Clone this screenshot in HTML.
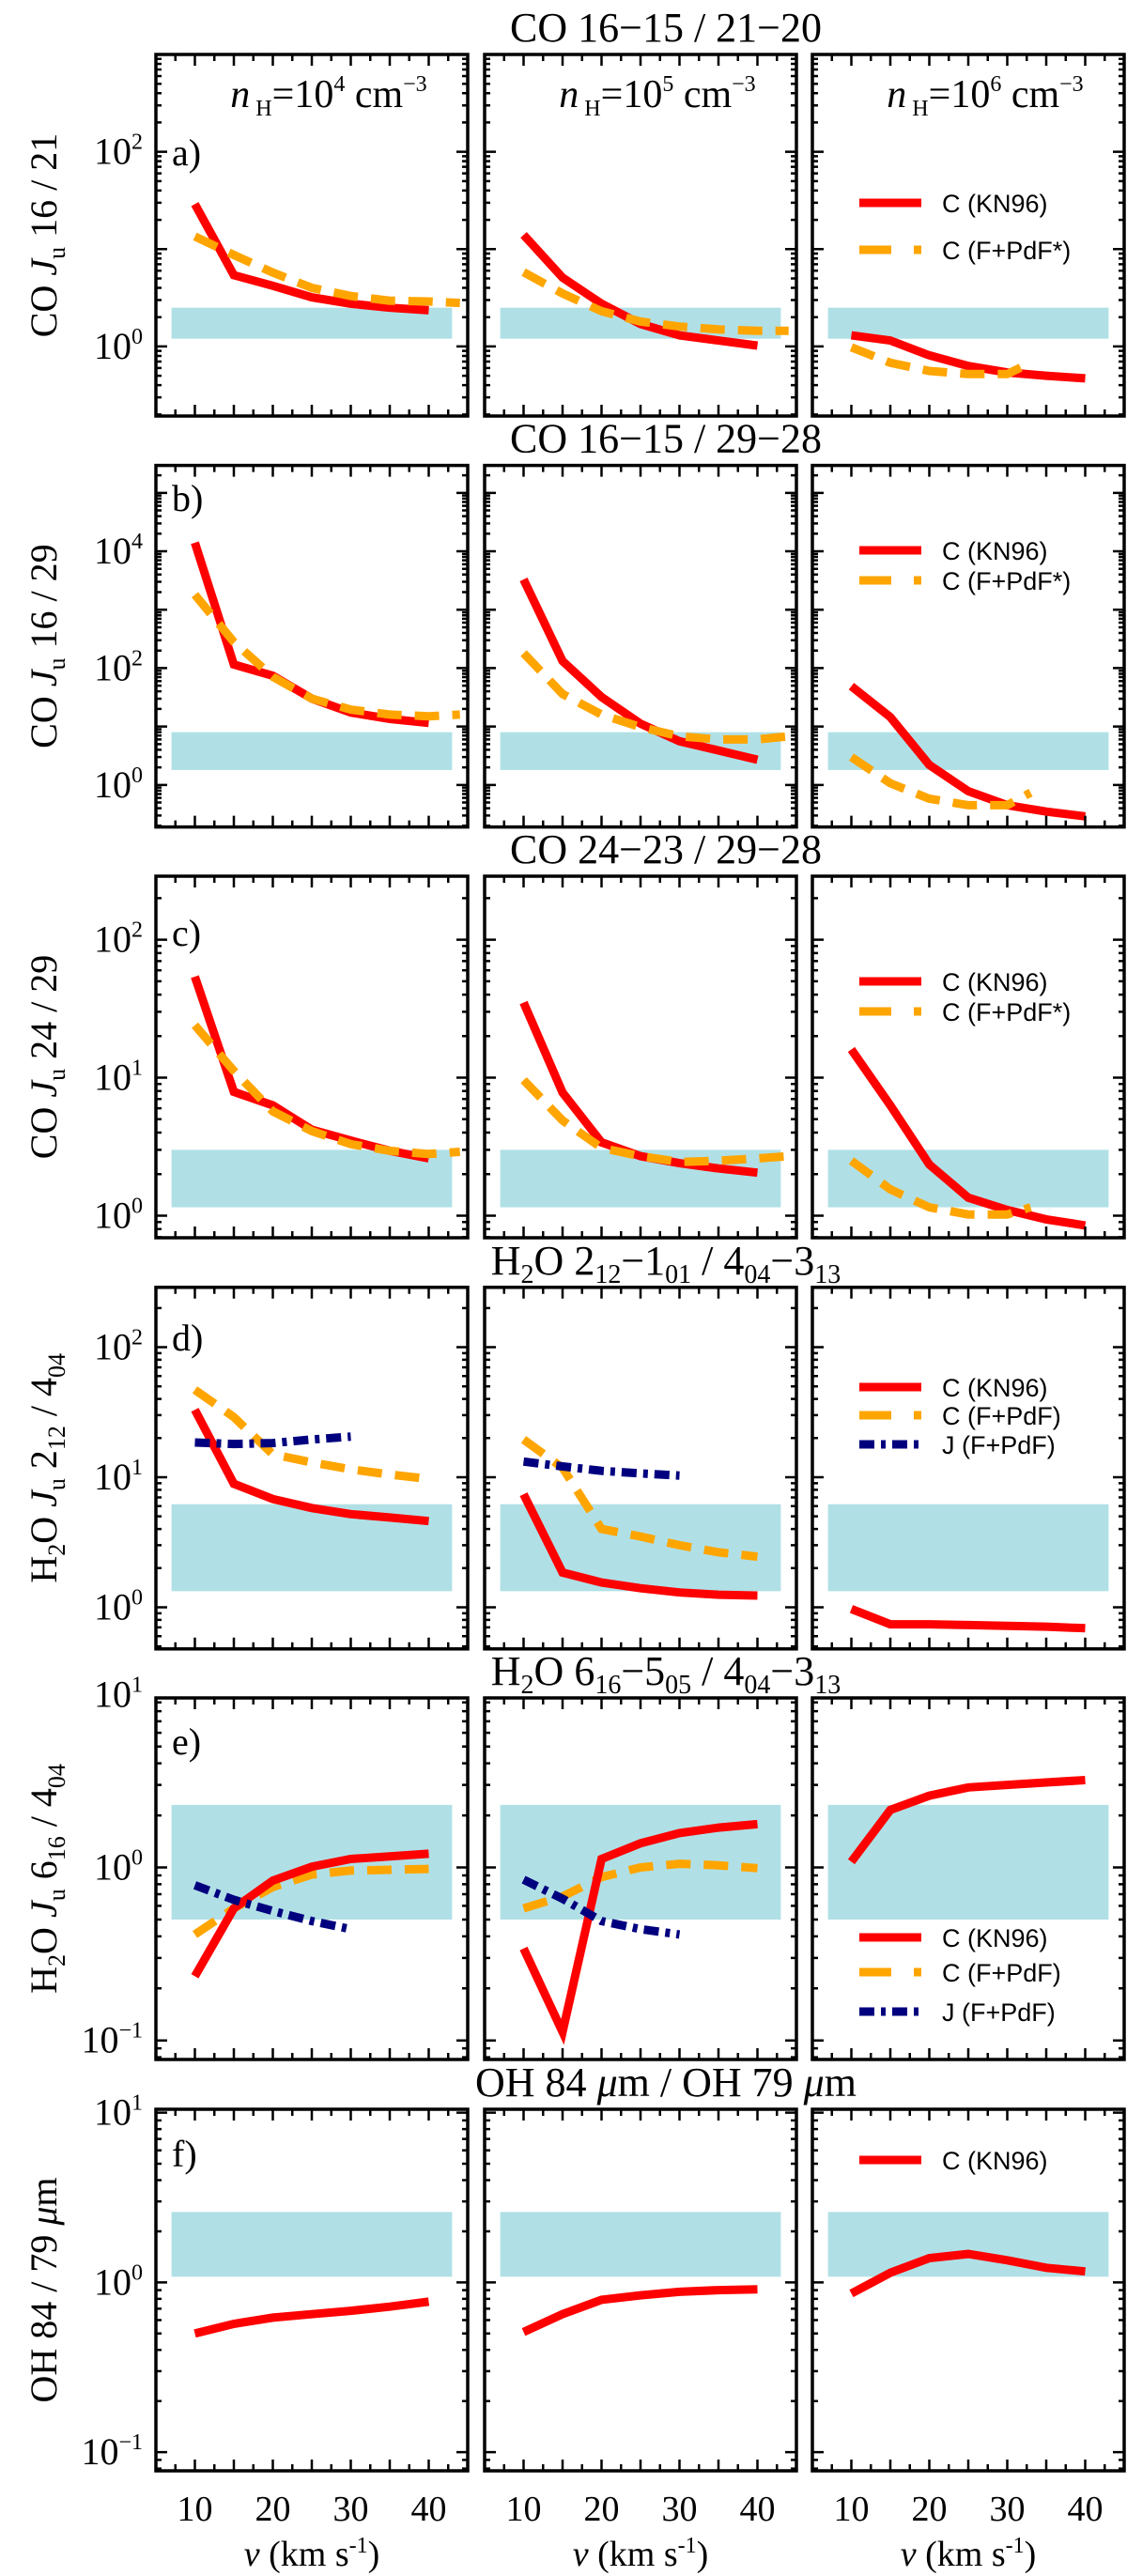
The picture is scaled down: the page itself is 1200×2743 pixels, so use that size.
<!DOCTYPE html>
<html><head><meta charset="utf-8"><title>Line ratio model grid</title>
<style>
html,body{margin:0;padding:0;background:#fff;}
svg{display:block;}
text{font-family:"Liberation Serif","DejaVu Serif",serif;fill:#000;}
.leg{font-family:"Liberation Sans Narrow","Liberation Sans",sans-serif;font-size:27px;}
</style></head>
<body>
<svg id="fig" width="1200" height="2743" viewBox="0 0 1200 2743" xmlns="http://www.w3.org/2000/svg"></svg>
<script>
// ---------- data ----------
const vel = [10, 15, 20, 25, 30, 35, 40];
const velExt = [10, 15, 20, 25, 30, 35, 40, 44];
const velShort = [10, 15, 20, 25, 30, 33];
const velJ = [10, 15, 20, 25, 30];
const xTickLabels = ["10", "20", "30", "40"];
const xTickValues = [10, 20, 30, 40];

// panel a: CO 16/21
const aRed1 = [29, 5.4, 4.2, 3.2, 2.75, 2.5, 2.35];
const aOrg1 = [13.5, 8.7, 5.75, 4.0, 3.3, 2.95, 2.9, 2.8];
const aRed2 = [14, 5.1, 2.75, 1.7, 1.3, 1.15, 1.02];
const aOrg2 = [5.8, 3.5, 2.3, 1.8, 1.6, 1.5, 1.45, 1.45];
const aRed3 = [1.3, 1.15, 0.81, 0.63, 0.54, 0.5, 0.47];
const aOrg3 = [0.98, 0.68, 0.56, 0.52, 0.52, 0.68];
// panel b: CO 16/29
const bRed1 = [14000, 115, 74, 30, 17.4, 13.5, 11.5];
const bOrg1 = [1800, 280, 71, 30, 19.5, 16, 15, 16];
const bRed2 = [3300, 132, 32, 11.2, 5.6, 3.9, 2.7];
const bOrg2 = [180, 36, 16, 9.8, 6.8, 6.0, 6.0, 6.8];
const bRed3 = [49, 14.5, 2.2, 0.78, 0.45, 0.35, 0.29];
const bOrg3 = [3.0, 1.07, 0.58, 0.45, 0.45, 0.74];
// panel c: CO 24/29
const cRed1 = [54, 7.9, 6.3, 4.2, 3.5, 2.95, 2.6];
const cOrg1 = [24, 11.2, 5.7, 4.1, 3.3, 2.95, 2.8, 2.9];
const cRed2 = [35, 7.8, 3.4, 2.7, 2.4, 2.2, 2.05];
const cOrg2 = [9.6, 4.9, 3.1, 2.7, 2.45, 2.5, 2.6, 2.7];
const cRed3 = [16, 6.3, 2.35, 1.35, 1.1, 0.94, 0.85];
const cOrg3 = [2.5, 1.55, 1.15, 1.02, 1.02, 1.15];
// panel d: H2O 212/404
const dRed1 = [33, 8.9, 6.8, 5.8, 5.2, 4.9, 4.6];
const dOrg1 = [47, 29, 15, 13, 11.5, 10.5, 9.7];
const dBlu1 = [18.5, 18, 18.3, 19.5, 20.5];
const dRed2 = [7.4, 1.85, 1.55, 1.4, 1.3, 1.25, 1.23];
const dOrg2 = [19.5, 11.8, 4.0, 3.5, 3.0, 2.65, 2.45];
const dBlu2 = [13.2, 12.1, 11.2, 10.7, 10.3];
const dRed3 = [0.97, 0.74, 0.74, 0.73, 0.72, 0.71, 0.69];
// panel e: H2O 616/404
const eRed1 = [0.235, 0.58, 0.84, 1.01, 1.12, 1.16, 1.2];
const eOrg1 = [0.41, 0.58, 0.77, 0.91, 0.96, 0.97, 0.98];
const eBlu1 = [0.79, 0.65, 0.56, 0.49, 0.44];
const eRed2 = [0.34, 0.112, 1.12, 1.38, 1.58, 1.7, 1.78];
const eOrg2 = [0.58, 0.68, 0.88, 1.0, 1.05, 1.03, 0.99];
const eBlu2 = [0.85, 0.66, 0.49, 0.44, 0.41];
const eRed3 = [1.08, 2.15, 2.6, 2.9, 3.0, 3.1, 3.2];
// panel f: OH 84/79
const fRed1 = [0.50, 0.57, 0.62, 0.65, 0.68, 0.72, 0.77];
const fRed2 = [0.51, 0.65, 0.79, 0.84, 0.88, 0.90, 0.91];
const fRed3 = [0.86, 1.14, 1.39, 1.47, 1.35, 1.22, 1.16];

// observed bands (lower, upper) per row
const bandLo = [1.2, 1.8, 1.15, 1.33, 0.5, 1.08];
const bandHi = [2.5, 8.0, 3.0, 6.2, 2.3, 2.6];
const bandV = [7, 43];

// y axis ranges (log10) per row
const yLogLo = [-0.715, -0.72, -0.16, -0.32, -1.11, -1.11];
const yLogHi = [3.0, 5.47, 2.46, 2.46, 0.98, 1.02];
const yTickExp = [[0, 2], [0, 2, 4], [0, 1, 2], [0, 1, 2], [-1, 0, 1], [-1, 0, 1]];

// ---------- layout ----------
const XMIN = 5, XMAX = 45;
const colLeft = [166, 516, 865], colW = 332;
const rowTop = [58, 495.6, 933, 1370.8, 1808, 2246], rowH = 385;
const NS = "http://www.w3.org/2000/svg";
const svg = document.getElementById("fig");
const RED = "#ff0000", ORG = "#ffa500", BLU = "#00007f", CYAN = "#b0e0e6";

function mk(tag, attrs, parent) {
  const e = document.createElementNS(NS, tag);
  for (const k in attrs) e.setAttribute(k, attrs[k]);
  (parent || svg).appendChild(e);
  return e;
}
function xs(c, v) { return colLeft[c] + (v - XMIN) / (XMAX - XMIN) * colW; }
function ys(r, val) { const l = Math.log10(val); return rowTop[r] + (yLogHi[r] - l) / (yLogHi[r] - yLogLo[r]) * rowH; }
function ysLog(r, l) { return rowTop[r] + (yLogHi[r] - l) / (yLogHi[r] - yLogLo[r]) * rowH; }

const defs = mk("defs", {});
for (let r = 0; r < 6; r++) for (let c = 0; c < 3; c++) {
  const cp = mk("clipPath", { id: "cp" + r + c }, defs);
  mk("rect", { x: colLeft[c], y: rowTop[r], width: colW, height: rowH }, cp);
}

const panels = [
  [[{v: vel, d: aRed1, s: "r"}, {v: velExt, d: aOrg1, s: "o"}], [{v: vel, d: aRed2, s: "r"}, {v: velExt, d: aOrg2, s: "o"}], [{v: vel, d: aRed3, s: "r"}, {v: velShort, d: aOrg3, s: "o"}]],
  [[{v: vel, d: bRed1, s: "r"}, {v: velExt, d: bOrg1, s: "o"}], [{v: vel, d: bRed2, s: "r"}, {v: velExt, d: bOrg2, s: "o"}], [{v: vel, d: bRed3, s: "r"}, {v: velShort, d: bOrg3, s: "o"}]],
  [[{v: vel, d: cRed1, s: "r"}, {v: velExt, d: cOrg1, s: "o"}], [{v: vel, d: cRed2, s: "r"}, {v: velExt, d: cOrg2, s: "o"}], [{v: vel, d: cRed3, s: "r"}, {v: velShort, d: cOrg3, s: "o"}]],
  [[{v: vel, d: dOrg1, s: "o"}, {v: vel, d: dRed1, s: "r"}, {v: velJ, d: dBlu1, s: "b"}], [{v: vel, d: dOrg2, s: "o"}, {v: vel, d: dRed2, s: "r"}, {v: velJ, d: dBlu2, s: "b"}], [{v: vel, d: dRed3, s: "r"}]],
  [[{v: vel, d: eOrg1, s: "o"}, {v: vel, d: eRed1, s: "r"}, {v: velJ, d: eBlu1, s: "b"}], [{v: vel, d: eOrg2, s: "o"}, {v: vel, d: eRed2, s: "r"}, {v: velJ, d: eBlu2, s: "b"}], [{v: vel, d: eRed3, s: "r"}]],
  [[{v: vel, d: fRed1, s: "r"}], [{v: vel, d: fRed2, s: "r"}], [{v: vel, d: fRed3, s: "r"}]]
];
const styleMap = {
  r: {stroke: RED, dash: "none", name: "c-kn96-line"},
  o: {stroke: ORG, dash: "26 14", name: "c-fpdf-line"},
  b: {stroke: BLU, dash: "16 7 5 7", name: "j-fpdf-line"}
};

const letters = ["a)", "b)", "c)", "d)", "e)", "f)"];

for (let r = 0; r < 6; r++) {
  for (let c = 0; c < 3; c++) {
    const g = mk("g", {});
    
    
    const L = colLeft[c], T = rowTop[r], R = L + colW, B = T + rowH;
    const band = mk("rect", { x: xs(c, bandV[0]), y: ys(r, bandHi[r]), width: xs(c, bandV[1]) - xs(c, bandV[0]), height: ys(r, bandLo[r]) - ys(r, bandHi[r]), fill: CYAN }, g);
    
    
    const sg = mk("g", { "clip-path": "url(#cp" + r + c + ")" }, g);
    for (const s of panels[r][c]) {
      const st = styleMap[s.s];
      const pts = s.v.map((v, i) => xs(c, v).toFixed(1) + "," + ys(r, s.d[i]).toFixed(1)).join(" ");
      const pl = mk("polyline", { points: pts, fill: "none", stroke: st.stroke, "stroke-width": 9, "stroke-dasharray": st.dash, "stroke-linejoin": "miter" }, sg);
      
      
    }
    const fr = mk("rect", { x: L, y: T, width: colW, height: rowH, fill: "none", stroke: "#000", "stroke-width": 3.5 }, g);
    
    
    let tp = "";
    for (let v = 7.5; v < XMAX; v += 2.5) {
      const x = xs(c, v); const len = (v % 5 === 0) ? 12 : 7;
      tp += `M${x},${B}v${-len}M${x},${T}v${len}`;
    }
    for (let e = Math.floor(yLogLo[r]); e <= Math.ceil(yLogHi[r]); e++) {
      for (let m = 1; m < 10; m++) {
        const l = e + Math.log10(m);
        if (l <= yLogLo[r] || l >= yLogHi[r]) continue;
        const y = ysLog(r, l); const len = m === 1 ? 12 : 6;
        tp += `M${L},${y}h${len}M${R},${y}h${-len}`;
      }
    }
    const tk = mk("path", { d: tp, stroke: "#000", "stroke-width": 2.5, fill: "none" }, g);
    
    
    if (r === 5) {
      xTickValues.forEach((v, i) => {
        const t = mk("text", { x: xs(c, v), y: 2684, "font-size": 38, "text-anchor": "middle" }, svg);
        t.textContent = xTickLabels[i];
        
        
      });
      const xt = mk("text", { x: L + colW / 2, y: 2732, "font-size": 38, "text-anchor": "middle" }, svg);
      xt.innerHTML = '<tspan font-style="italic">v</tspan> (km s<tspan dy="-14" font-size="24">-1</tspan><tspan dy="14">)</tspan>';
      
      
    }
    if (c === 0) {
      for (const e of yTickExp[r]) {
        const y = ysLog(r, e);
        const t = mk("text", { x: 152, y: y + 13, "font-size": 40, "text-anchor": "end" }, svg);
        t.innerHTML = '10<tspan dy="-16" font-size="24">' + (e < 0 ? "\u2212" + (-e) : e) + '</tspan>';
        
        
      }
      const pl = mk("text", { x: 183, y: ysLogLbl(r), "font-size": 40 }, svg);
      pl.textContent = letters[r];
      
      
    }
  }
}
function ysLogLbl(r) { return [176, 544, 1007, 1438, 1868, 2307][r]; }

const rowTitles = [
  'CO 16\u221215 / 21\u221220',
  'CO 16\u221215 / 29\u221228',
  'CO 24\u221223 / 29\u221228',
  'H<tspan dy="9" font-size="28">2</tspan><tspan dy="-9">O 2</tspan><tspan dy="9" font-size="28">12</tspan><tspan dy="-9">\u22121</tspan><tspan dy="9" font-size="28">01</tspan><tspan dy="-9"> / 4</tspan><tspan dy="9" font-size="28">04</tspan><tspan dy="-9">\u22123</tspan><tspan dy="9" font-size="28">13</tspan>',
  'H<tspan dy="9" font-size="28">2</tspan><tspan dy="-9">O 6</tspan><tspan dy="9" font-size="28">16</tspan><tspan dy="-9">\u22125</tspan><tspan dy="9" font-size="28">05</tspan><tspan dy="-9"> / 4</tspan><tspan dy="9" font-size="28">04</tspan><tspan dy="-9">\u22123</tspan><tspan dy="9" font-size="28">13</tspan>',
  'OH 84 <tspan font-style="italic">\u03bc</tspan>m / OH 79 <tspan font-style="italic">\u03bc</tspan>m'
];
rowTitles.forEach((s, r) => {
  const t = mk("text", { x: 709, y: rowTop[r] - 14, "font-size": 44, "text-anchor": "middle" });
  t.innerHTML = s;
  
  
});

const yTitles = [
  'CO <tspan font-style="italic">J</tspan><tspan dy="9" font-size="26">u</tspan><tspan dy="-9"> 16 / 21</tspan>',
  'CO <tspan font-style="italic">J</tspan><tspan dy="9" font-size="26">u</tspan><tspan dy="-9"> 16 / 29</tspan>',
  'CO <tspan font-style="italic">J</tspan><tspan dy="9" font-size="26">u</tspan><tspan dy="-9"> 24 / 29</tspan>',
  'H<tspan dy="9" font-size="26">2</tspan><tspan dy="-9">O </tspan><tspan font-style="italic">J</tspan><tspan dy="9" font-size="26">u</tspan><tspan dy="-9"> 2</tspan><tspan dy="9" font-size="26">12</tspan><tspan dy="-9"> / 4</tspan><tspan dy="9" font-size="26">04</tspan>',
  'H<tspan dy="9" font-size="26">2</tspan><tspan dy="-9">O </tspan><tspan font-style="italic">J</tspan><tspan dy="9" font-size="26">u</tspan><tspan dy="-9"> 6</tspan><tspan dy="9" font-size="26">16</tspan><tspan dy="-9"> / 4</tspan><tspan dy="9" font-size="26">04</tspan>',
  'OH 84 / 79 <tspan font-style="italic">\u03bc</tspan>m'
];
yTitles.forEach((s, r) => {
  const cy = rowTop[r] + rowH / 2;
  const t = mk("text", { x: 0, y: 0, "font-size": 40, "text-anchor": "middle", transform: `translate(60,${cy}) rotate(-90)` });
  t.innerHTML = s;
  
  
});

const dens = ["4", "5", "6"];
dens.forEach((d, c) => {
  const t = mk("text", { x: colLeft[c] + colW / 2 + 18, y: 114, "font-size": 42, "text-anchor": "middle" });
  t.innerHTML = '<tspan font-style="italic">n</tspan><tspan dy="9" font-size="24"> H</tspan><tspan dy="-9">=10</tspan><tspan dy="-17" font-size="24">' + d + '</tspan><tspan dy="17"> cm</tspan><tspan dy="-17" font-size="24">\u22123</tspan>';
  
  
});

const legendRows = [
  [["r", "C (KN96)", 216], ["o", "C (F+PdF*)", 266]],
  [["r", "C (KN96)", 586], ["o", "C (F+PdF*)", 618]],
  [["r", "C (KN96)", 1045], ["o", "C (F+PdF*)", 1077]],
  [["r", "C (KN96)", 1477], ["o", "C (F+PdF)", 1507], ["b", "J (F+PdF)", 1538]],
  [["r", "C (KN96)", 2063], ["o", "C (F+PdF)", 2100], ["b", "J (F+PdF)", 2142]],
  [["r", "C (KN96)", 2300]]
];
legendRows.forEach((rows) => {
  const g = mk("g", {});
  
  
  rows.forEach(([s, lab, y]) => {
    const st = styleMap[s];
    const ln = mk("line", { x1: 915, x2: 981, y1: y, y2: y, stroke: st.stroke, "stroke-width": 9, "stroke-dasharray": s === "o" ? "34 24" : st.dash }, g);
    
    
    const t = mk("text", { x: 1003, y: y + 10, class: "leg" }, g);
    t.textContent = lab;
    
    
  });
});
</script>
</body></html>
